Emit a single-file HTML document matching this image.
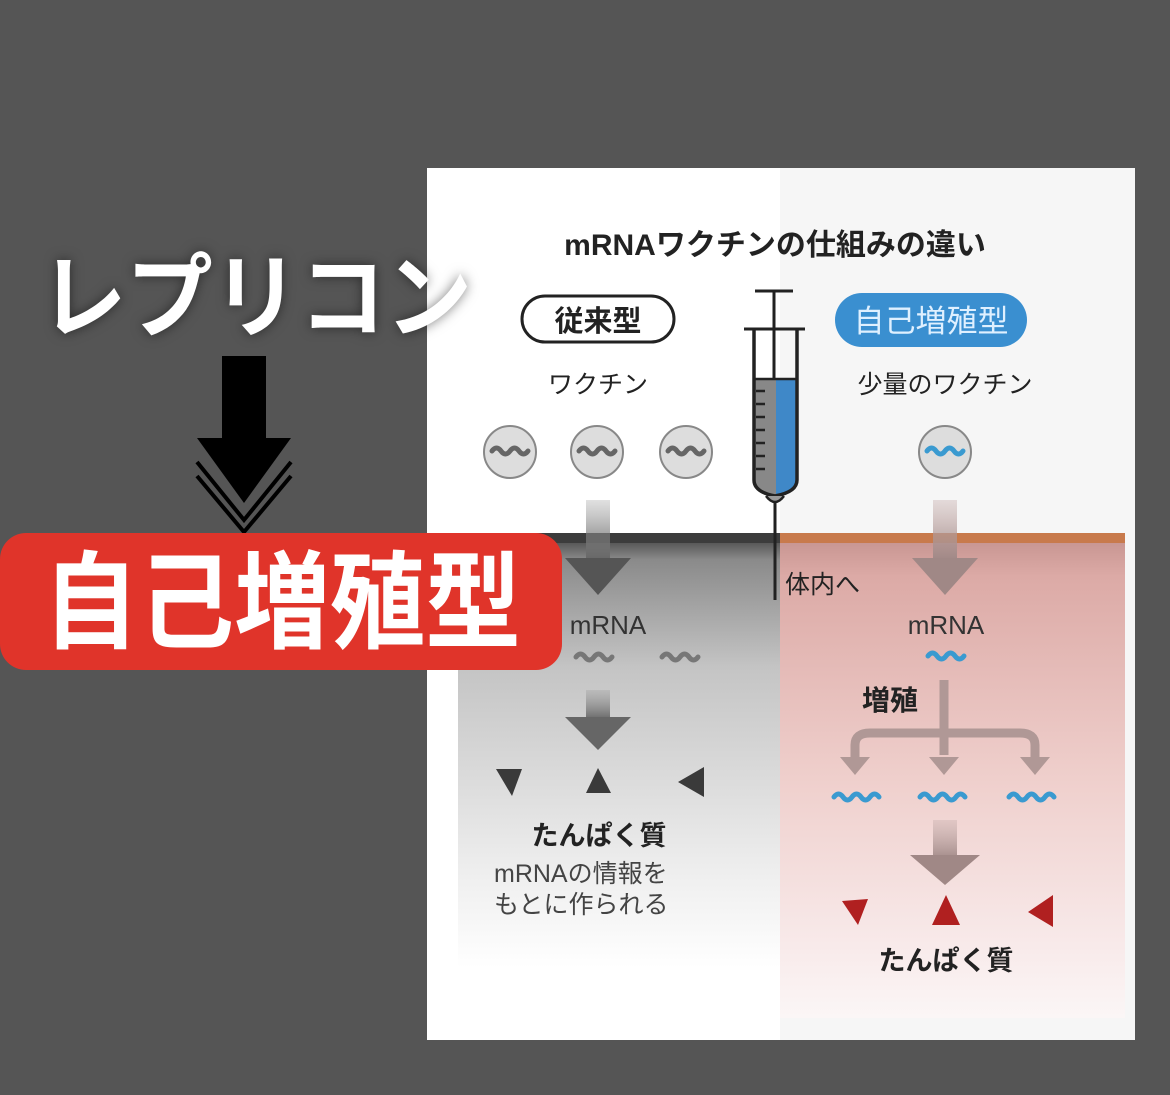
<!DOCTYPE html>
<html><head><meta charset="utf-8"><style>
html,body{margin:0;padding:0;background:#555;}
svg{display:block}
text{font-family:"Liberation Sans","Noto Sans CJK JP",sans-serif;}
</style></head><body>
<svg width="1170" height="1095" viewBox="0 0 1170 1095" xmlns="http://www.w3.org/2000/svg">
<defs>
<linearGradient id="gl" x1="0" y1="0" x2="0" y2="1">
<stop offset="0" stop-color="#4a4a4a"/><stop offset="0.05" stop-color="#8a8a8a"/><stop offset="0.3" stop-color="#c4c4c4"/><stop offset="0.75" stop-color="#ececec"/><stop offset="1" stop-color="#ffffff"/>
</linearGradient>
<linearGradient id="gr" x1="0" y1="0" x2="0" y2="1">
<stop offset="0" stop-color="#c69490"/><stop offset="0.08" stop-color="#dcaaa6"/><stop offset="0.5" stop-color="#efcfcc"/><stop offset="0.85" stop-color="#f8eaea"/><stop offset="1" stop-color="#fbf6f6"/>
</linearGradient>
<linearGradient id="ar" x1="0" y1="0" x2="0" y2="1">
<stop offset="0" stop-color="#999" stop-opacity="0.3"/><stop offset="1" stop-color="#666"/>
</linearGradient>
<linearGradient id="ap" x1="0" y1="0" x2="0" y2="1">
<stop offset="0" stop-color="#c8b0ae" stop-opacity="0.4"/><stop offset="1" stop-color="#a08886"/>
</linearGradient>
</defs>
<rect width="1170" height="1095" fill="#555"/>
<rect x="427" y="168" width="708" height="872" fill="#fff"/>
<rect x="780" y="168" width="355" height="872" fill="#f6f6f6"/>
<rect x="458" y="538" width="322" height="430" fill="url(#gl)"/>
<rect x="780" y="538" width="345" height="480" fill="url(#gr)"/>
<rect x="458" y="533" width="322" height="10" fill="#3c3c3c"/>
<rect x="780" y="533" width="345" height="10" fill="#c87a4c"/>

<text x="775" y="255" font-size="30" font-weight="bold" text-anchor="middle" fill="#222">mRNAワクチンの仕組みの違い</text>
<rect x="522" y="296" width="152" height="46" rx="23" fill="#fff" stroke="#222" stroke-width="3"/>
<text x="598" y="331" font-size="29" font-weight="bold" text-anchor="middle" fill="#222">従来型</text>
<rect x="835" y="293" width="192" height="54" rx="27" fill="#3a8fd0"/>
<text x="931" y="332" font-size="31" text-anchor="middle" fill="#dff0ff">自己増殖型</text>
<text x="598" y="393" font-size="25" text-anchor="middle" fill="#222">ワクチン</text>
<text x="945" y="393" font-size="25" text-anchor="middle" fill="#222">少量のワクチン</text>

<g stroke="#888" stroke-width="2" fill="#ddd">
<circle cx="510" cy="452" r="26"/><circle cx="597" cy="452" r="26"/><circle cx="686" cy="452" r="26"/><circle cx="945" cy="452" r="26"/>
</g>
<g fill="none" stroke-width="5" stroke-linecap="round">
<path d="M492 451 q4.5 -6 9 0 t9 0 t9 0 t9 0" stroke="#666"/>
<path d="M579 451 q4.5 -6 9 0 t9 0 t9 0 t9 0" stroke="#666"/>
<path d="M668 451 q4.5 -6 9 0 t9 0 t9 0 t9 0" stroke="#666"/>
<path d="M927 451 q4.5 -6 9 0 t9 0 t9 0 t9 0" stroke="#3a9ad0"/>
</g>

<rect x="586" y="500" width="24" height="60" fill="url(#ar)"/>
<polygon points="565,558 631,558 598,595" fill="#555"/>
<rect x="933" y="500" width="24" height="60" fill="url(#ap)"/>
<polygon points="912,558 978,558 945,595" fill="#a08886"/>

<g stroke="#222" stroke-width="3" fill="none">
<line x1="755" y1="291" x2="793" y2="291"/>
<line x1="774" y1="291" x2="774" y2="378"/>
<line x1="744" y1="329" x2="805" y2="329"/>
</g>
<path d="M754 379 H797 V480 Q797 492 775 496 Q754 492 754 480 Z" fill="#888"/>
<path d="M776 379 H797 V480 Q797 492 776 496 Z" fill="#3f88c8"/>
<path d="M754 329 V480 Q754 492 775 496 Q797 492 797 480 V329" fill="none" stroke="#222" stroke-width="3.5"/>
<line x1="754" y1="379" x2="797" y2="379" stroke="#222" stroke-width="2.5"/>
<g stroke="#222" stroke-width="2.5">
<line x1="756" y1="391" x2="765" y2="391"/><line x1="756" y1="404" x2="765" y2="404"/><line x1="756" y1="417" x2="765" y2="417"/><line x1="756" y1="430" x2="765" y2="430"/><line x1="756" y1="443" x2="765" y2="443"/><line x1="756" y1="456" x2="765" y2="456"/><line x1="756" y1="469" x2="765" y2="469"/>
</g>
<path d="M766 496 Q775 508 784 496" fill="#999" stroke="#222" stroke-width="2.5"/>
<line x1="775" y1="503" x2="775" y2="600" stroke="#222" stroke-width="3"/>
<text x="785" y="593" font-size="25" fill="#222">体内へ</text>

<text x="608" y="634" font-size="26" text-anchor="middle" fill="#333">mRNA</text>
<g fill="none" stroke-width="5" stroke-linecap="round" stroke="#777">
<path d="M576 657 q4.5 -6 9 0 t9 0 t9 0 t9 0"/>
<path d="M662 657 q4.5 -6 9 0 t9 0 t9 0 t9 0"/>
</g>
<rect x="586" y="690" width="24" height="30" fill="url(#ar)"/>
<polygon points="565,717 631,717 598,750" fill="#666"/>
<g fill="#3a3a3a">
<polygon points="496,769 522,769 512,796"/>
<polygon points="598,768 586,793 611,793"/>
<polygon points="704,767 704,797 678,782"/>
</g>
<text x="599" y="845" font-size="27" font-weight="bold" text-anchor="middle" fill="#222">たんぱく質</text>
<text x="494" y="882" font-size="25" fill="#444">mRNAの情報を</text>
<text x="494" y="913" font-size="25" fill="#444">もとに作られる</text>

<text x="946" y="634" font-size="26" text-anchor="middle" fill="#333">mRNA</text>
<path d="M928 656 q4.5 -6 9 0 t9 0 t9 0 t9 0" fill="none" stroke="#3a9ad0" stroke-width="5" stroke-linecap="round"/>
<text x="862" y="710" font-size="28" font-weight="bold" fill="#222">増殖</text>
<g fill="none" stroke="#b09896" stroke-width="9">
<line x1="944" y1="680" x2="944" y2="755"/>
<path d="M855 758 V745 Q855 733 870 733 H1020 Q1035 733 1035 745 V758"/>
</g>
<g fill="#b09896">
<polygon points="840,757 870,757 855,775"/><polygon points="929,757 959,757 944,775"/><polygon points="1020,757 1050,757 1035,775"/>
</g>
<g fill="none" stroke-width="5" stroke-linecap="round" stroke="#3a9ad0">
<path d="M834 797 q4.5 -6 9 0 t9 0 t9 0 t9 0 t9 0"/>
<path d="M920 797 q4.5 -6 9 0 t9 0 t9 0 t9 0 t9 0"/>
<path d="M1009 797 q4.5 -6 9 0 t9 0 t9 0 t9 0 t9 0"/>
</g>
<rect x="933" y="820" width="24" height="40" fill="url(#ap)"/>
<polygon points="910,855 980,855 945,885" fill="#a08886"/>
<g fill="#b02020">
<polygon points="842,901 868,899 858,925"/>
<polygon points="946,895 932,925 960,925"/>
<polygon points="1053,895 1053,927 1028,912"/>
</g>
<text x="946" y="970" font-size="27" font-weight="bold" text-anchor="middle" fill="#222">たんぱく質</text>

<text x="40" y="330" font-size="92" font-weight="bold" fill="#fff" textLength="432" lengthAdjust="spacingAndGlyphs" style="filter:drop-shadow(0 0 6px rgba(0,0,0,.5))">レプリコン</text>
<rect x="222" y="356" width="44" height="84" fill="#000"/>
<polygon points="197,438 291,438 244,503" fill="#000"/>
<polyline points="197,462 244,520 291,462" fill="none" stroke="#000" stroke-width="4"/>
<polyline points="197,476 244,532 291,476" fill="none" stroke="#000" stroke-width="4"/>
<rect x="0" y="533" width="562" height="137" rx="26" fill="#e0342a"/>
<text x="282" y="640" font-size="106" font-weight="bold" text-anchor="middle" fill="#fff" textLength="478" lengthAdjust="spacingAndGlyphs">自己増殖型</text>
</svg>
</body></html>
